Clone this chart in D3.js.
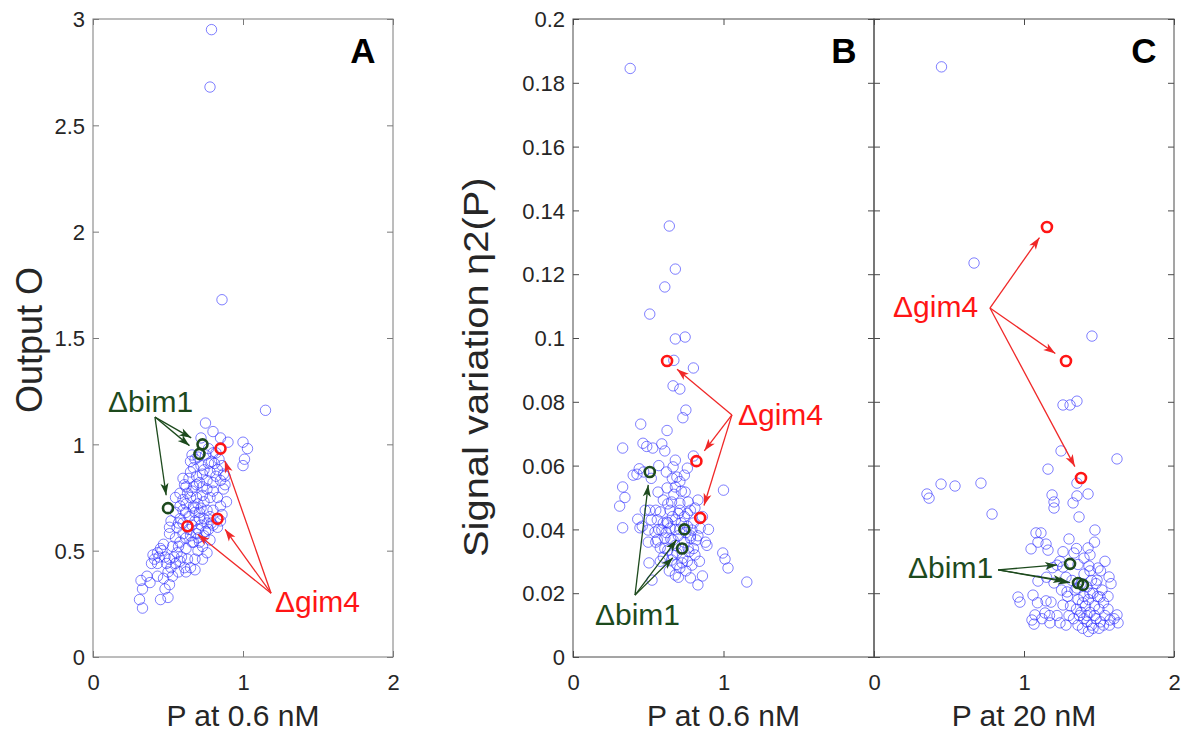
<!DOCTYPE html>
<html><head><meta charset="utf-8">
<script src="https://cdnjs.cloudflare.com/ajax/libs/d3/7.8.5/d3.min.js"></script>
<style>body{margin:0;background:#fff}svg{display:block}text{font-family:"Liberation Sans",Arial,sans-serif}</style>
</head><body><svg id="c" width="1183" height="732"></svg>
<script>
// ---------------- DATA ----------------
const xTicks = [0, 1, 2];
const xTickLabelsB = [0, 1];           // B's "2" coincides with C's "0"
const yTicksA = [0, 0.5, 1, 1.5, 2, 2.5, 3];
const yTicksBC = [0, 0.02, 0.04, 0.06, 0.08, 0.1, 0.12, 0.14, 0.16, 0.18, 0.2];
const xLabelA = "P at 0.6 nM", xLabelB = "P at 0.6 nM", xLabelC = "P at 20 nM";
const yLabelA = "Output O", yLabelB1 = "Signal variation", yLabelB2 = "\u03B72(P)";
const panelLetters = ["A", "B", "C"];

// Panel A: P at 0.6 nM vs Output O
const strainsA = [
 [0.79,2.95],[0.78,2.68],[0.86,1.68],[1.15,1.16],
 [0.75,1.10],[0.80,1.06],[0.90,1.01],[1.00,1.01],[1.03,0.98],[1.01,0.93],[1.00,0.90],[0.82,0.96],
 [0.32,0.36],[0.33,0.32],[0.31,0.27],[0.33,0.23],[0.38,0.35],[0.43,0.38],[0.45,0.27],[0.50,0.28],
 [0.48,0.32],[0.51,0.34],[0.50,0.40],[0.43,0.49],[0.45,0.51],[0.41,0.46],[0.43,0.44],[0.48,0.47],
 [0.51,0.46],[0.56,0.49],[0.58,0.45],[0.61,0.42],[0.65,0.42],[0.68,0.41],[0.63,0.46],[0.68,0.46],
 [0.73,0.46],[0.76,0.49],[0.70,0.50],[0.62,0.51],[0.67,0.54],[0.71,0.54],[0.58,0.54],[0.55,0.56],
 [0.51,0.58],[0.56,0.61],[0.60,0.58],[0.65,0.57],[0.69,0.58],[0.74,0.57],[0.77,0.60],[0.79,0.63],
 [0.83,0.61],[0.85,0.64],[0.52,0.64],[0.55,0.68],[0.58,0.71],[0.58,0.65],[0.62,0.68],[0.67,0.70],
 [0.71,0.68],[0.76,0.69],[0.80,0.69],[0.85,0.71],[0.60,0.74],[0.65,0.75],[0.69,0.75],[0.73,0.76],
 [0.78,0.75],[0.83,0.75],[0.87,0.79],[0.58,0.77],[0.62,0.80],[0.67,0.80],[0.71,0.82],[0.76,0.83],
 [0.80,0.82],[0.85,0.83],[0.88,0.85],[0.69,0.85],[0.73,0.86],[0.78,0.87],[0.83,0.88],[0.87,0.86],
 [0.67,0.89],[0.72,0.90],[0.77,0.91],[0.81,0.91],[0.65,0.92],[0.70,0.94],[0.75,0.95],[0.66,0.95],
 [0.80,0.96],[0.65,0.87],[0.60,0.84],[0.51,0.61],[0.55,0.75],[0.62,0.40],
 [0.62,0.72],[0.64,0.66],[0.66,0.62],[0.68,0.64],[0.70,0.60],[0.72,0.62],[0.74,0.65],[0.76,0.63],
 [0.78,0.66],[0.70,0.72],[0.72,0.70],[0.74,0.73],[0.66,0.78],[0.68,0.68],[0.64,0.60],[0.62,0.56],
 [0.66,0.54],[0.70,0.56],[0.73,0.52],[0.78,0.55],[0.80,0.78],[0.82,0.85],[0.76,0.79],[0.73,0.80],
 [0.69,0.81],[0.64,0.84],[0.60,0.69],[0.57,0.63],[0.53,0.52],[0.47,0.53],[0.40,0.48],[0.44,0.47],
 [0.36,0.38],[0.55,0.44],[0.52,0.42],[0.57,0.40],[0.59,0.47],[0.74,0.88],[0.79,0.92],[0.84,0.93],
 [0.86,0.90],[0.88,0.81],[0.89,0.73],[0.86,0.67],[0.80,0.62],[0.75,0.59],[0.71,0.65],[0.67,0.71],
 [0.63,0.77],[0.61,0.81],[0.68,0.93],[0.77,0.98],[0.72,1.03],[0.85,1.03],
 [0.46,0.50],[0.49,0.44],[0.54,0.47],[0.47,0.37],[0.53,0.38],[0.39,0.44],[0.57,0.52],[0.60,0.63]
];
const bim1A = [[0.73,1.00],[0.71,0.955],[0.50,0.70]];
const gim4A = [[0.85,0.98],[0.83,0.65],[0.63,0.615]];

// Panel B: P at 0.6 nM vs signal variation
const strainsB = [
 [0.38,0.1845],[0.64,0.1351],[0.68,0.1216],[0.61,0.116],[0.51,0.1075],[0.68,0.0997],[0.745,0.1003],
 [0.67,0.093],[0.80,0.0906],[0.665,0.085],[0.71,0.084],[0.75,0.0774],[0.73,0.075],[0.45,0.073],
 [0.625,0.071],[0.33,0.0655],[0.465,0.067],[0.49,0.066],[0.53,0.0655],[0.59,0.0668],[0.61,0.0646],
 [0.68,0.0617],[0.665,0.0596],[0.76,0.0592],[0.80,0.063],[0.425,0.0573],[0.69,0.0564],[0.71,0.055],
 [0.33,0.0533],[0.345,0.050],[0.31,0.0473],[0.33,0.0405],[0.43,0.0432],[0.445,0.0405],[0.565,0.0517],
 [0.625,0.053],[0.68,0.0533],[0.745,0.0517],[0.60,0.0492],[0.655,0.0486],[0.71,0.0482],[0.765,0.0486],
 [0.83,0.0492],[1.0,0.0523],[0.51,0.046],[0.58,0.0455],[0.645,0.046],[0.70,0.045],[0.76,0.045],
 [0.81,0.0467],[0.56,0.043],[0.625,0.0423],[0.68,0.043],[0.50,0.0398],[0.545,0.0392],[0.59,0.0398],
 [0.645,0.0404],[0.79,0.0398],[0.845,0.0404],[0.90,0.040],[0.56,0.0367],[0.61,0.0373],[0.665,0.0367],
 [0.78,0.0373],[0.82,0.0367],[0.88,0.036],[0.58,0.0342],[0.63,0.0335],[0.69,0.0326],[0.765,0.0342],
 [0.81,0.032],[0.60,0.0313],[0.655,0.0304],[0.725,0.0295],[0.79,0.0288],[0.505,0.0295],[0.995,0.0326],
 [1.01,0.0307],[1.03,0.0279],[1.155,0.0235],[0.68,0.0257],[0.78,0.0248],[0.83,0.0226],[0.86,0.0254],
 [0.525,0.0241],[0.71,0.0279],[0.89,0.035],
 [0.65,0.037],[0.70,0.038],[0.72,0.042],[0.74,0.036],[0.76,0.041],[0.68,0.035],[0.66,0.044],[0.71,0.046],
 [0.74,0.044],[0.77,0.033],[0.73,0.031],[0.69,0.029],[0.75,0.027],[0.70,0.025],[0.64,0.027],[0.62,0.039],
 [0.60,0.042],[0.57,0.040],[0.55,0.046],[0.52,0.043],[0.63,0.048],[0.67,0.051],[0.72,0.052],[0.78,0.046],
 [0.80,0.042],[0.83,0.038],[0.86,0.044],[0.80,0.034],[0.84,0.030],[0.76,0.030],[0.72,0.034],[0.66,0.032],
 [0.61,0.034],[0.58,0.030],[0.55,0.036],[0.62,0.058],[0.57,0.060],[0.66,0.056],[0.74,0.057],[0.78,0.038],
 [0.75,0.039],[0.68,0.040],[0.63,0.042],[0.71,0.040],[0.48,0.046],[0.46,0.041],[0.50,0.036],[0.44,0.059],
 [0.47,0.058],[0.52,0.056],[0.40,0.057]
];
const bim1B = [[0.51,0.058],[0.74,0.040],[0.725,0.034]];
const gim4B = [[0.625,0.0928],[0.82,0.0614],[0.845,0.0436]];

// Panel C: P at 20 nM vs signal variation
const strainsC = [
 [0.45,0.185],[0.667,0.1235],[1.453,0.1006],[1.26,0.079],[1.307,0.079],[1.353,0.0802],[1.247,0.0646],
 [1.16,0.0589],[1.62,0.0621],[1.353,0.0545],[0.353,0.0511],[0.367,0.0498],[0.447,0.0542],[0.54,0.0536],
 [0.713,0.0545],[0.787,0.0448],[1.187,0.0508],[1.20,0.0486],[1.20,0.0467],[1.327,0.0483],[1.353,0.0505],
 [1.427,0.0511],[1.367,0.0439],[1.473,0.0398],[1.08,0.0389],[1.113,0.0389],[1.093,0.036],[1.147,0.0354],
 [1.047,0.0339],[1.16,0.0335],[1.427,0.0342],[1.333,0.0326],[1.26,0.0282],[1.22,0.0288],[1.433,0.0285],
 [1.493,0.0279],[1.567,0.0251],[1.487,0.0241],[1.093,0.0238],[1.20,0.0232],[0.96,0.0188],[0.973,0.0172],
 [1.06,0.0194],[1.147,0.0176],[1.18,0.0172],[1.26,0.0163],[1.073,0.0132],[1.14,0.0138],[1.053,0.0116],
 [1.067,0.0103],[1.173,0.0107],[1.24,0.0107],[1.62,0.0132],[1.627,0.0107],[1.573,0.0116],
 [1.287,0.0204],[1.353,0.0216],[1.44,0.020],[1.507,0.0188],
 [1.33,0.012],[1.36,0.010],[1.39,0.009],[1.42,0.011],[1.45,0.010],[1.48,0.012],[1.51,0.011],[1.54,0.013],
 [1.57,0.010],[1.60,0.012],[1.35,0.015],[1.38,0.014],[1.41,0.016],[1.44,0.014],[1.47,0.016],[1.50,0.015],
 [1.53,0.017],[1.56,0.015],[1.36,0.018],[1.40,0.019],[1.43,0.018],[1.46,0.020],[1.49,0.019],[1.52,0.021],
 [1.34,0.021],[1.38,0.023],[1.42,0.022],[1.45,0.024],[1.48,0.023],[1.40,0.026],[1.44,0.027],[1.37,0.013],
 [1.40,0.012],[1.43,0.008],[1.46,0.009],[1.50,0.009],[1.53,0.010],[1.39,0.017],[1.42,0.013],[1.47,0.013],
 [1.31,0.016],[1.30,0.013],[1.28,0.010],[1.32,0.024],[1.29,0.019],[1.25,0.021],[1.22,0.013],[1.17,0.013],
 [1.12,0.012],[1.09,0.017],[1.56,0.019],[1.58,0.023],[1.51,0.027],[1.54,0.030],[1.40,0.031],[1.35,0.034],
 [1.30,0.037],[1.24,0.030],[1.19,0.028],[1.15,0.025],[1.28,0.025],[1.44,0.032],[1.47,0.036],[1.36,0.029],
 [1.26,0.033]
];
const bim1C = [[1.307,0.0292],[1.36,0.0232],[1.393,0.0226]];
const gim4C = [[1.153,0.1348],[1.28,0.0928],[1.38,0.0561]];

// ---------------- LAYOUT ----------------
const svg = d3.select("#c");
const BLUE = "#2b2bff", RED = "#ff1515", GREEN = "#1d4a1d", ARROW_RED = "#f02828";
const TXT = "#262626";
const fmt = d3.format("~g");

const defs = svg.append("defs");
[["arR", ARROW_RED], ["arG", GREEN]].forEach(([id, col]) => {
  defs.append("marker").attr("id", id).attr("viewBox", "0 0 12 10")
    .attr("refX", 12).attr("refY", 5).attr("markerWidth", 15).attr("markerHeight", 10)
    .attr("markerUnits", "userSpaceOnUse").attr("orient", "auto")
    .append("path").attr("d", "M0,1 L12,5 L0,9 L3,5 Z").attr("fill", col);
});

const panels = [
  {name:"A", left:93, right:393, yDom:[0,3], yTicks:yTicksA, yLabels:true, xLab:xTicks, data:strainsA, bim:bim1A, gim:gim4A,
   xLabel:xLabelA, letter:panelLetters[0], frame:"#7a7a7a",
   gText:[0.10,1.152], gOrig:[0.413,1.128], rText:[1.213,0.212], rOrig:[1.187,0.30]},
  {name:"B", left:573, right:874, yDom:[0,0.2], yTicks:yTicksBC, yLabels:true, xLab:xTickLabelsB, data:strainsB, bim:bim1B, gim:gim4B,
   xLabel:xLabelB, letter:panelLetters[1], frame:"#4a4a4a",
   gText:[0.146,0.010], gOrig:[0.412,0.0194], rText:[1.096,0.0727], rOrig:[1.056,0.0759]},
  {name:"C", left:874, right:1174, yDom:[0,0.2], yTicks:yTicksBC, yLabels:false, xLab:xTicks, data:strainsC, bim:bim1C, gim:gim4C,
   xLabel:xLabelC, letter:panelLetters[2], frame:"#4a4a4a",
   gText:[0.227,0.0248], gOrig:[0.827,0.0273], rText:[0.127,0.1066], rOrig:[0.773,0.1094]}
];
const plotTop = 19, plotBottom = 657, tickLen = 6;

panels.forEach(p => {
  const x = d3.scaleLinear().domain([0,2]).range([p.left, p.right]);
  const y = d3.scaleLinear().domain(p.yDom).range([plotBottom, plotTop]);
  const g = svg.append("g");

  g.append("rect").attr("x", p.left).attr("y", plotTop).attr("width", p.right - p.left).attr("height", plotBottom - plotTop)
    .attr("fill", "none").attr("stroke", p.frame).attr("stroke-width", 1);

  const ax = [
    d3.axisBottom(x).tickValues(xTicks).tickSize(-tickLen).tickFormat(d => p.xLab.includes(d) ? fmt(d) : ""),
    d3.axisTop(x).tickValues(xTicks).tickSize(-tickLen).tickFormat(""),
    d3.axisLeft(y).tickValues(p.yTicks).tickSize(-tickLen).tickFormat(fmt),
    d3.axisRight(y).tickValues(p.yTicks).tickSize(-tickLen).tickFormat("")
  ];
  const trans = [`translate(0,${plotBottom})`, `translate(0,${plotTop})`, `translate(${p.left},0)`, `translate(${p.right},0)`];
  ax.forEach((a, i) => {
    const ag = g.append("g").attr("transform", trans[i]).call(a);
    ag.select(".domain").remove();
    ag.selectAll("line").attr("stroke", p.frame);
    ag.selectAll("text").attr("fill", TXT).style("font-size", "22px").style("font-family", '"Liberation Sans",Arial,sans-serif');
    if (i === 0) ag.selectAll("text").attr("y", 17).attr("dy", "0.71em");
    if (i === 2) {
      if (!p.yLabels) ag.selectAll("text").remove();
      else ag.selectAll("text").attr("x", -8).attr("dy", "0.35em");
    }
  });

  svg.append("text").attr("x", (p.left + p.right) / 2).attr("y", 726).attr("text-anchor", "middle")
    .attr("fill", TXT).style("font-size", "30px").text(p.xLabel);

  svg.append("text").attr("x", p.right - 30).attr("y", 63).attr("text-anchor", "middle")
    .attr("fill", "#000").style("font-size", "35px").style("font-weight", "bold").text(p.letter);

  g.append("g").selectAll("circle").data(p.data).join("circle")
    .attr("cx", d => x(d[0])).attr("cy", d => y(d[1])).attr("r", 5.2)
    .attr("fill", "none").attr("stroke", BLUE).attr("stroke-opacity", 0.6).attr("stroke-width", 1);

  g.append("g").selectAll("circle").data(p.bim).join("circle")
    .attr("cx", d => x(d[0])).attr("cy", d => y(d[1])).attr("r", 5)
    .attr("fill", "none").attr("stroke", GREEN).attr("stroke-width", 2.6);
  g.append("g").selectAll("circle").data(p.gim).join("circle")
    .attr("cx", d => x(d[0])).attr("cy", d => y(d[1])).attr("r", 5)
    .attr("fill", "none").attr("stroke", RED).attr("stroke-width", 2.6);

  function arrows(orig, targets, marker, col) {
    const ox = x(orig[0]), oy = y(orig[1]);
    targets.forEach(t => {
      const tx = x(t[0]), ty = y(t[1]);
      const dx = tx - ox, dy = ty - oy, L = Math.hypot(dx, dy), s = (L - 13) / L;
      g.append("line").attr("x1", ox).attr("y1", oy).attr("x2", ox + dx * s).attr("y2", oy + dy * s)
        .attr("stroke", col).attr("stroke-width", 1.3).attr("marker-end", `url(#${marker})`);
    });
  }
  arrows(p.gOrig, p.bim, "arG", GREEN);
  arrows(p.rOrig, p.gim, "arR", ARROW_RED);

  g.append("text").attr("x", x(p.gText[0])).attr("y", y(p.gText[1])).attr("fill", GREEN)
    .style("font-size", "30px").text("\u0394bim1");
  g.append("text").attr("x", x(p.rText[0])).attr("y", y(p.rText[1])).attr("fill", RED)
    .style("font-size", "30px").text("\u0394gim4");
});

svg.append("text").attr("transform", "translate(42,340) rotate(-90)").attr("text-anchor", "middle")
  .attr("fill", TXT).style("font-size", "36px").text(yLabelA);
const yLabB = svg.append("g").attr("transform", "translate(488,557) rotate(-90) scale(1.14,1)");
yLabB.append("text").attr("x", 0).attr("text-anchor", "start")
  .attr("fill", TXT).style("font-size", "35px").text(yLabelB1);
yLabB.append("text").attr("x", 333).attr("text-anchor", "end")
  .attr("fill", TXT).style("font-size", "35px").text(yLabelB2);
</script></body></html>
